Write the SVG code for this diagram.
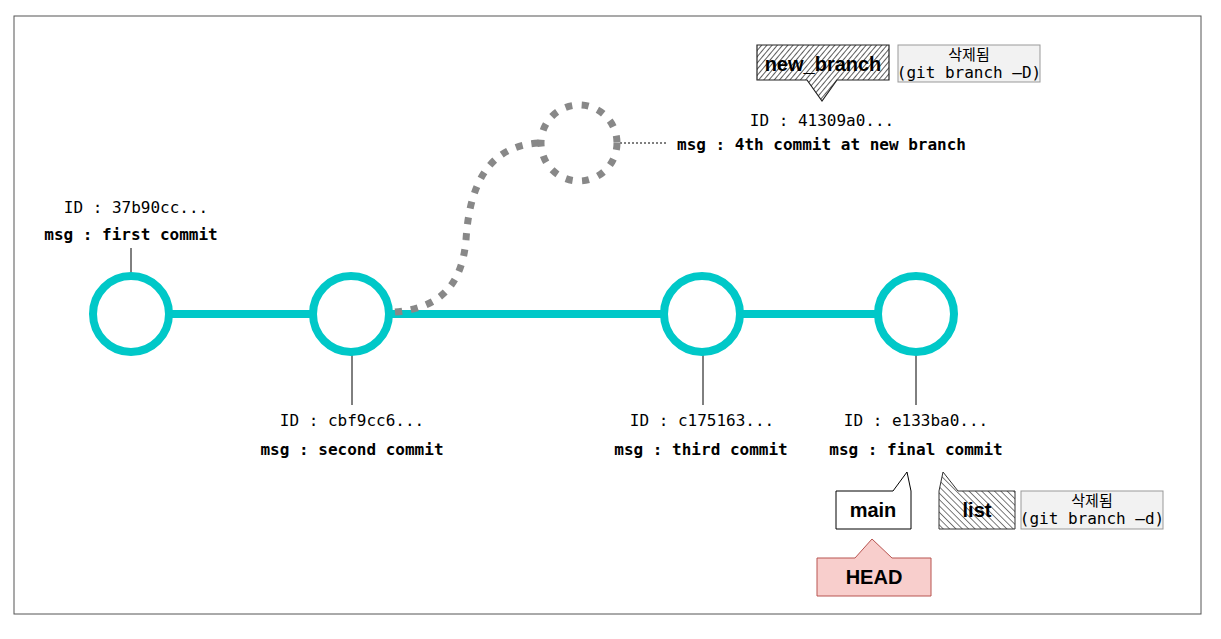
<svg xmlns="http://www.w3.org/2000/svg" width="1221" height="639" viewBox="0 0 1221 639">
<defs>
<pattern id="hatchA" patternUnits="userSpaceOnUse" width="4" height="4" patternTransform="rotate(40)">
<rect width="4" height="4" fill="#ffffff"/>
<line x1="0" y1="0" x2="0" y2="4" stroke="#333" stroke-width="1.6"/>
</pattern>
<pattern id="hatchB" patternUnits="userSpaceOnUse" width="4.5" height="4.5" patternTransform="rotate(-45)">
<rect width="4.5" height="4.5" fill="#ffffff"/>
<line x1="0" y1="0" x2="0" y2="4.5" stroke="#444" stroke-width="1.4"/>
</pattern>
<style>
.commit{fill:#fff;stroke:#00C8C8;stroke-width:8}
.edge{stroke:#00C8C8;stroke-width:8;fill:none}
.mono{font-family:"DejaVu Sans Mono","Liberation Mono",monospace;font-size:16px;fill:#000}
.b{font-weight:bold}
.tick{stroke:#000;stroke-width:1}
.lbl{font-family:"Liberation Sans",Arial,sans-serif;font-weight:bold;font-size:20px;fill:#000}
.del{fill:#f2f2f2;stroke:#999;stroke-width:1}
.kr{font-family:"Noto Sans CJK KR","DejaVu Sans",sans-serif;font-size:15px;fill:#000}
</style>
</defs>
<rect x="14" y="16" width="1187" height="598" fill="#fff" stroke="#555" stroke-width="1"/>

<g id="connectors">
<line class="edge" x1="169" y1="314" x2="313" y2="314"/>
<line class="edge" x1="389" y1="314" x2="664" y2="314"/>
<line class="edge" x1="740" y1="314" x2="878" y2="314"/>
<path d="M395,312 C440,308 462,285 466,240 C470,175 495,145 540,143" fill="none" stroke="#888" stroke-width="7" stroke-dasharray="7,9"/>
<line x1="620" y1="143" x2="668" y2="143" stroke="#000" stroke-width="1" stroke-dasharray="2,2"/>
<line class="tick" x1="131" y1="248" x2="131" y2="274"/>
<line class="tick" x1="352" y1="354" x2="352" y2="405"/>
<line class="tick" x1="703" y1="354" x2="703" y2="405"/>
<line class="tick" x1="916" y1="354" x2="916" y2="405"/>
</g>

<g id="commit1">
<circle class="commit" cx="131" cy="314" r="38"/>
<text class="mono" x="136" y="213" text-anchor="middle">ID : 37b90cc...</text>
<text class="mono b" x="131" y="240" text-anchor="middle">msg : first commit</text>
</g>
<g id="commit2">
<circle class="commit" cx="351" cy="314" r="38"/>
<text class="mono" x="352" y="426" text-anchor="middle">ID : cbf9cc6...</text>
<text class="mono b" x="352" y="455" text-anchor="middle">msg : second commit</text>
</g>
<g id="commit3">
<circle class="commit" cx="702" cy="314" r="38"/>
<text class="mono" x="702" y="426" text-anchor="middle">ID : c175163...</text>
<text class="mono b" x="701" y="455" text-anchor="middle">msg : third commit</text>
</g>
<g id="commit4">
<circle class="commit" cx="916" cy="314" r="38"/>
<text class="mono" x="916" y="426" text-anchor="middle">ID : e133ba0...</text>
<text class="mono b" x="916" y="455" text-anchor="middle">msg : final commit</text>
</g>
<g id="commit-deleted">
<circle cx="579" cy="143" r="38" fill="none" stroke="#888" stroke-width="7" stroke-dasharray="7,9.5"/>
<text class="mono" x="822" y="126" text-anchor="middle">ID : 41309a0...</text>
<text class="mono b" x="677" y="150">msg : 4th commit at new branch</text>
</g>

<g id="new_branch">
<path d="M757,45 L889,45 L889,80 L837,80 L822,101 L807,80 L757,80 Z" fill="url(#hatchA)" stroke="#222" stroke-width="1.2"/>
<text class="lbl" x="823" y="71" text-anchor="middle">new_branch</text>
</g>
<g id="new_branch-deleted">
<rect class="del" x="898" y="45" width="142" height="37"/>
<text class="kr" x="969" y="60" text-anchor="middle">삭제됨</text>
<text class="mono" x="969" y="78" text-anchor="middle">(git branch –D)</text>
</g>

<g id="main">
<path d="M836,491 L893,491 L907,472 L911,491 L911,529 L836,529 Z" fill="#fff" stroke="#000" stroke-width="1"/>
<text class="lbl" x="873" y="517" text-anchor="middle">main</text>
</g>
<g id="list">
<path d="M939,491 L943,472 L958,491 L1015,491 L1015,529 L939,529 Z" fill="url(#hatchB)" stroke="#333" stroke-width="1"/>
<text class="lbl" x="977" y="517" text-anchor="middle">list</text>
</g>
<g id="list-deleted">
<rect class="del" x="1021" y="491" width="142" height="38"/>
<text class="kr" x="1092" y="506" text-anchor="middle">삭제됨</text>
<text class="mono" x="1092" y="524" text-anchor="middle">(git branch –d)</text>
</g>

<g id="HEAD">
<path d="M817,558 L855,558 L872,539 L892,558 L931,558 L931,596 L817,596 Z" fill="#f8cecc" stroke="#b85450" stroke-width="1"/>
<text class="lbl" x="874" y="584" text-anchor="middle">HEAD</text>
</g>
</svg>
